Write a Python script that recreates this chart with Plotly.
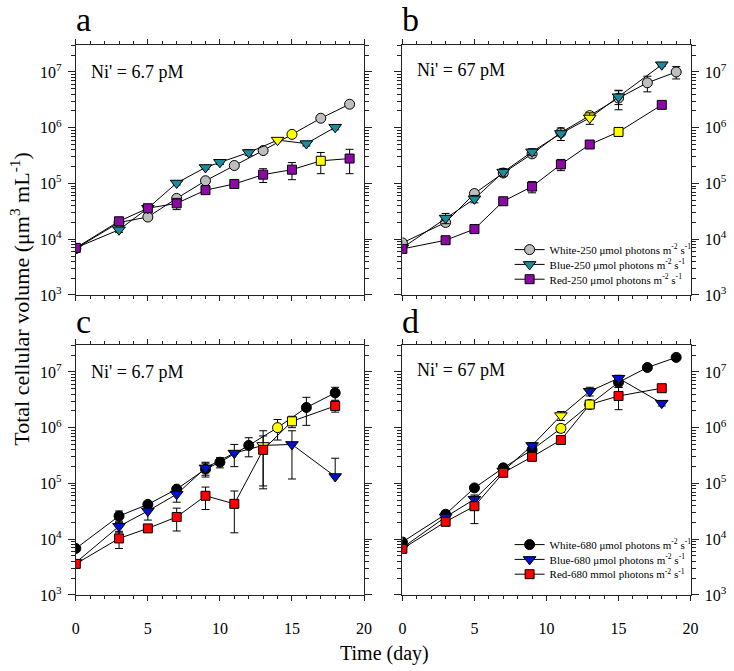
import numpy as np
import plotly.graph_objects as go

# ---------------- data ----------------
# Panel a: Ni' = 6.7 pM, 250 umol photons
white_a_days = [0, 3, 5, 7, 9, 11, 13, 15, 17, 19]
white_a_vals = [6.8e3, 2.0e4, 2.5e4, 5.4e4, 1.12e5, 2.1e5, 3.9e5, 7.6e5, 1.48e6, 2.64e6]
white_a_err = [500, 1500, 2500, 5000, 1.2e4, 1.5e4, 4e4, 5e4, 1.2e5, 1.5e5]
blue_a_days = [0, 3, 5, 7, 9, 10, 12, 14, 16, 18]
blue_a_vals = [7.0e3, 1.48e4, 3.6e4, 1.02e5, 1.94e5, 2.4e5, 3.6e5, 6.0e5, 5.2e5, 1.02e6]
blue_a_err = [500, 1500, 3000, 8000, 1.5e4, 2e4, 4e4, 4e4, 5e4, 1e5]
red_a_days = [0, 3, 5, 7, 9, 11, 13, 15, 17, 19]
red_a_vals = [7.0e3, 2.1e4, 3.6e4, 4.4e4, 7.6e4, 9.8e4, 1.44e5, 1.77e5, 2.55e5, 2.8e5]
red_a_err = [500, 2000, 3000, 1e4, 1e4, 8e3, 4e4, 6e4, 1.05e5, 1.3e5]

# Panel b: Ni' = 67 pM, 250 umol photons
white_b_days = [0, 3, 5, 7, 9, 11, 13, 15, 17, 19]
white_b_vals = [8.6e3, 2.0e4, 6.6e4, 1.54e5, 3.4e5, 8.2e5, 1.65e6, 3.4e6, 6.4e6, 1.0e7]
white_b_err = [800, 2500, 8000, 1.5e4, 4e4, 1e5, 2.5e5, 1.3e6, 2e6, 2.5e6]
blue_b_days = [0, 3, 5, 7, 9, 11, 13, 15, 18]
blue_b_vals = [7.0e3, 2.4e4, 5.3e4, 1.6e5, 3.7e5, 7.9e5, 1.5e6, 3.6e6, 1.35e7]
blue_b_err = [500, 5000, 8000, 2.5e4, 5e4, 2e5, 3.5e5, 1e6, 1e6]
red_b_days = [0, 3, 5, 7, 9, 11, 13, 15, 18]
red_b_vals = [6.7e3, 9.6e3, 1.52e4, 4.8e4, 8.8e4, 2.2e5, 5.0e5, 8.4e5, 2.57e6]
red_b_err = [500, 1500, 2000, 5000, 2e4, 5e4, 6e4, 8e4, 2e5]

# Panel c: Ni' = 6.7 pM, 680 umol photons
white_c_days = [0, 3, 5, 7, 9, 10, 12, 14, 16, 18]
white_c_vals = [6.8e3, 2.6e4, 4.2e4, 7.9e4, 1.8e5, 2.4e5, 4.8e5, 1.0e6, 2.3e6, 4.2e6]
white_c_err = [500, 6000, 5000, 8000, 5e4, 5e4, 1.8e5, 4e5, 1.2e6, 1.1e6]
blue_c_days = [0, 3, 5, 7, 9, 11, 13, 15, 18]
blue_c_vals = [3.8e3, 1.7e4, 3.2e4, 6.4e4, 1.9e5, 3.5e5, 4.8e5, 5.0e5, 1.33e5]
blue_c_err = [300, 4000, 1e4, 1.8e4, 5e4, 1.5e5, 4e5, 3.8e5, 1.5e5]
red_c_days = [0, 3, 5, 7, 9, 11, 13, 15, 18]
red_c_vals = [3.6e3, 1.03e4, 1.56e4, 2.5e4, 6.0e4, 4.3e4, 4.0e5, 1.3e6, 2.45e6]
red_c_err = [300, 3500, 2000, 1.1e4, 2.6e4, 3e4, 3.1e5, 3e5, 5.5e5]

# Panel d: Ni' = 67 pM, 680 umol photons
white_d_days = [0, 3, 5, 7, 9, 11, 13, 15, 17, 19]
white_d_vals = [8.9e3, 2.8e4, 8.3e4, 1.9e5, 4.0e5, 9.7e5, 2.6e6, 6.5e6, 1.2e7, 1.82e7]
white_d_err = [600, 4000, 8000, 2e4, 6e4, 1.5e5, 3e5, 1.2e6, 1e6, 1e6]
blue_d_days = [0, 3, 5, 7, 9, 11, 13, 15, 18]
blue_d_vals = [7.0e3, 2.5e4, 5.2e4, 1.67e5, 4.8e5, 1.65e6, 4.5e6, 7.7e6, 2.75e6]
blue_d_err = [500, 3000, 1e4, 2e4, 6e4, 3e5, 8e5, 1e6, 3e5]
red_d_days = [0, 3, 5, 7, 9, 11, 13, 15, 18]
red_d_vals = [6.7e3, 2.05e4, 3.9e4, 1.55e5, 3.0e5, 6.0e5, 2.6e6, 3.7e6, 5.1e6]
red_d_err = [500, 3000, 2e4, 2e4, 5e4, 6e4, 2e5, 1.6e6, 5e5]

# day on which each series is shown in yellow
highlight = {
    "a": [15, 14, 17], "b": [13, 13, 15], "c": [14, 13, 15], "d": [11, 11, 13],
}

panel_notes = {"a": "Ni' = 6.7 pM", "b": "Ni' = 67 pM", "c": "Ni' = 6.7 pM", "d": "Ni' = 67 pM"}
legend_250 = ["White-250 \u03bcmol photons m<sup>-2</sup> s<sup>-1</sup>",
              "Blue-250 \u03bcmol photons m<sup>-2</sup> s<sup>-1</sup>",
              "Red-250 \u03bcmol photons m<sup>-2</sup> s<sup>-1</sup>"]
legend_680 = ["White-680 \u03bcmol photons m<sup>-2</sup> s<sup>-1</sup>",
              "Blue-680 \u03bcmol photons m<sup>-2</sup> s<sup>-1</sup>",
              "Red-680 mmol photons m<sup>-2</sup> s<sup>-1</sup>"]

x_ticks = [0, 5, 10, 15, 20]
y_ticks = [1e3, 1e4, 1e5, 1e6, 1e7]
y_ticktext = ["10<sup>3</sup>", "10<sup>4</sup>", "10<sup>5</sup>", "10<sup>6</sup>", "10<sup>7</sup>"]

# ---------------- style ----------------
W, H = 734, 671
FONT = "Liberation Serif, Times New Roman, serif"
YELLOW = "#FFFF00"
styles_250 = [("circle", "#BEBEBE", 10), ("triangle-down", "#1A8C9E", 11), ("square", "#8B0AA5", 9)]
styles_680 = [("circle", "#000000", 10), ("triangle-down", "#0010D0", 11), ("square", "#FF0000", 9)]

panel_series = {
    "a": [(white_a_days, white_a_vals, white_a_err), (blue_a_days, blue_a_vals, blue_a_err), (red_a_days, red_a_vals, red_a_err)],
    "b": [(white_b_days, white_b_vals, white_b_err), (blue_b_days, blue_b_vals, blue_b_err), (red_b_days, red_b_vals, red_b_err)],
    "c": [(white_c_days, white_c_vals, white_c_err), (blue_c_days, blue_c_vals, blue_c_err), (red_c_days, red_c_vals, red_c_err)],
    "d": [(white_d_days, white_d_vals, white_d_err), (blue_d_days, blue_d_vals, blue_d_err), (red_d_days, red_d_vals, red_d_err)],
}

def px_x(p):
    return p / W

def px_y(p):
    return 1 - p / H

dom_x = {"L": [px_x(73), px_x(366)], "R": [px_x(405), px_x(698)]}
dom_y = {"T": [px_y(299), px_y(46)], "B": [px_y(603), px_y(350)]}
panel_layout = {"a": ("L", "T", 1), "b": ("R", "T", 2), "c": ("L", "B", 3), "d": ("R", "B", 4)}

fig = go.Figure()

legend_slots = {"b": ["legend", "legend2", "legend3"], "d": ["legend4", "legend5", "legend6"]}

for key, series in panel_series.items():
    col, row, idx = panel_layout[key]
    sty = styles_250 if key in "ab" else styles_680
    names = legend_250 if key in "ab" else legend_680
    for si, (days, vals, err) in enumerate(series):
        sym, colr, size = sty[si]
        colors = [YELLOW if d == highlight[key][si] else colr for d in days]
        err_minus = [e if e < v else 0 for e, v in zip(err, vals)]
        show_leg = key in legend_slots
        tr = dict(
            x=days, y=vals, mode="lines+markers", name=names[si],
            line=dict(color="black", width=1),
            marker=dict(symbol=sym, size=size, color=colors, line=dict(color="black", width=1)),
            error_y=dict(type="data", array=err, arrayminus=err_minus, visible=True,
                         color="black", thickness=1, width=4),
            xaxis="x" if idx == 1 else f"x{idx}", yaxis="y" if idx == 1 else f"y{idx}",
            showlegend=show_leg,
        )
        if show_leg:
            tr["legend"] = legend_slots[key][si]
        fig.add_trace(go.Scatter(**tr))

# minor tick positions for the log axis
minor_y = [k * 10 ** e for e in range(3, 8) for k in range(2, 10) if k * 10 ** e <= 3e7]

layout = dict(
    width=W, height=H, margin=dict(l=0, r=0, t=0, b=0),
    paper_bgcolor="white", plot_bgcolor="white",
    font=dict(family=FONT, size=16, color="black"),
)
for key, (col, row, idx) in panel_layout.items():
    sx = "xaxis" if idx == 1 else f"xaxis{idx}"
    sy = "yaxis" if idx == 1 else f"yaxis{idx}"
    anc_x = "y" if idx == 1 else f"y{idx}"
    anc_y = "x" if idx == 1 else f"x{idx}"
    layout[sx] = dict(
        domain=dom_x[col], anchor=anc_x, range=[0, 20], tickvals=x_ticks,
        showticklabels=(row == "B"), ticks="outside", ticklen=5, tickwidth=1, tickcolor="#222",
        showline=True, linecolor="#222", linewidth=1, mirror="allticks", showgrid=False, zeroline=False,
        minor=dict(dtick=1, ticks="outside", ticklen=3, tickcolor="#222", showgrid=False),
        tickfont=dict(family=FONT, size=16), ticklabelstandoff=14,
    )
    layout[sy] = dict(
        domain=dom_y[row], anchor=anc_y, type="log", range=[3, np.log10(3e7)],
        tickvals=y_ticks, ticktext=y_ticktext, side=("left" if col == "L" else "right"),
        ticks="outside", ticklen=7, tickwidth=1, tickcolor="#222",
        showline=True, linecolor="#222", linewidth=1, mirror="allticks", showgrid=False, zeroline=False,
        minor=dict(tickmode="array", tickvals=minor_y, ticks="outside", ticklen=4, tickcolor="#222", showgrid=False),
        tickfont=dict(family=FONT, size=16), ticklabelstandoff=3,
    )

# legends, one per entry
leg_rows = {"b": [253, 268, 283], "d": [552, 567, 582]}
for key, slots in legend_slots.items():
    for slot, yrow in zip(slots, leg_rows[key]):
        layout[slot] = dict(
            x=px_x(514), xanchor="left", y=px_y(yrow), yanchor="middle",
            bgcolor="rgba(0,0,0,0)", borderwidth=0, itemwidth=30,
            font=dict(family=FONT, size=11), tracegroupgap=0,
        )

annotations = []
letter_pos = {"a": (81, 0), "b": (413, 0), "c": (81, 306), "d": (413, 306)}
for key, (lx, ly) in letter_pos.items():
    annotations.append(dict(text=key, x=px_x(lx), y=px_y(ly), xref="paper", yref="paper",
                            xanchor="center", yanchor="top", borderpad=0,
                            showarrow=False, font=dict(family=FONT, size=34)))
note_pos = {"a": (86, 73), "b": (418, 71), "c": (86, 377), "d": (418, 375)}
for key, (nx, ny) in note_pos.items():
    annotations.append(dict(text=panel_notes[key], x=px_x(nx), y=px_y(ny), xref="paper", yref="paper",
                            xanchor="left", yanchor="middle", showarrow=False, font=dict(family=FONT, size=18)))
annotations.append(dict(text="Total cellular volume (\u03bcm<sup>3</sup> mL<sup>-1</sup>)",
                        x=px_x(16), y=px_y(303), xref="paper", yref="paper", textangle=-90,
                        xanchor="center", yanchor="middle",
                        showarrow=False, font=dict(family=FONT, size=22)))
annotations.append(dict(text="Time (day)", x=px_x(387), y=px_y(676), xref="paper", yref="paper",
                        xanchor="center", yanchor="bottom",
                        showarrow=False, font=dict(family=FONT, size=20)))
layout["annotations"] = annotations

fig.update_layout(**layout)
fig.write_html("out.html", config={"displayModeBar": False},
               post_script="document.body.style.margin='0px';")
